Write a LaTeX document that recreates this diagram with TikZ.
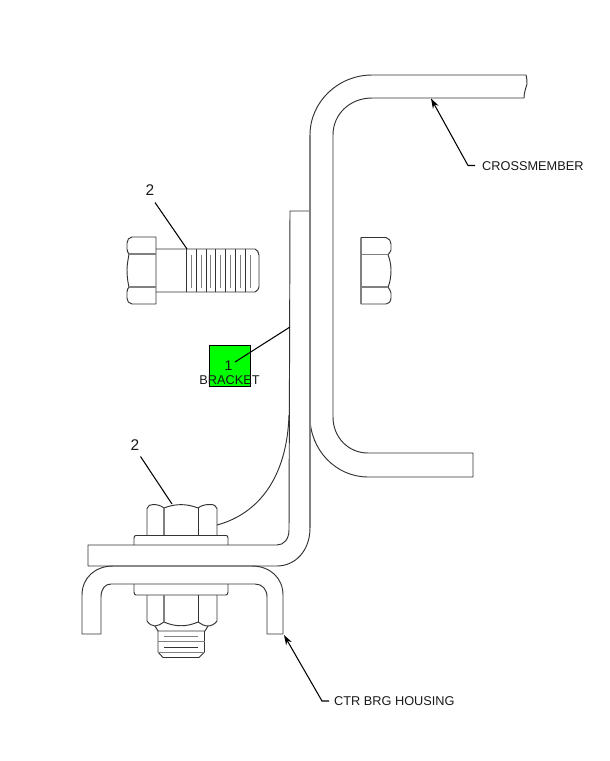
\documentclass[tikz,border=0pt]{standalone}
\usepackage{fontspec}
\setmainfont{Liberation Sans}
\usetikzlibrary{arrows.meta}
\definecolor{ink}{HTML}{333333}
\tikzset{
  part/.style={draw=ink,line width=0.95pt,line join=round},
  partg/.style={draw=black!50,line width=1.3pt},
  lead/.style={draw=black,line width=1.05pt},
  arr/.style={lead,-{Stealth[length=10pt,width=6.5pt]}},
  lbl/.style={inner sep=0pt,font=\fontsize{12.75}{12.75}\selectfont,text=black!90},
  num/.style={inner sep=0pt,font=\fontsize{15.5}{15.5}\selectfont,text=black!90}
}
\begin{document}
\begin{tikzpicture}[x=1pt,y=-1pt]
\useasboundingbox (0,0) rectangle (610,761);
% crossmember
\draw[part] (526,75) -- (372,75) .. controls (338,75) and (310,102) .. (310,135) -- (310,417)
  .. controls (310,450) and (336,477) .. (368,477) -- (473,477) -- (473,453) -- (368,453)
  .. controls (348,453) and (333,437) .. (333,417) -- (333,135)
  .. controls (333,114) and (350,98) .. (372,98) -- (524,98);
\draw[part] (526,75) .. controls (527,79) and (527,81) .. (527,84) .. controls (526,88) and (524,92) .. (524,98);
% bracket
\draw[part] (310,211) -- (290,211) -- (289,530) .. controls (289,539) and (284,545) .. (277,545) -- (88,545) -- (88,566) -- (277,566)
  .. controls (295,566) and (310,551) .. (310,528) -- (310,417);
\draw[partg] (310,135) -- (310,528);
% weld
\draw[part] (217,525) .. controls (258,514) and (287,478) .. (289,415);
% upper bolt
\draw[part] (156,237) -- (132,237) .. controls (129,237) and (127,240) .. (127,243) -- (127,249) .. controls (127,251) and (128,253) .. (129,254) .. controls (128,260) and (127,265) .. (127,270) .. controls (127,277) and (128,283) .. (129,287) .. controls (128,288) and (127,290) .. (127,292) -- (127,298) .. controls (127,301) and (129,304) .. (132,304) -- (156,304) -- cycle;
\draw[partg] (129,254) -- (156,254) (129,287) -- (156,287);
\draw[part] (156,249) -- (255,249) .. controls (257,250) and (259,252) .. (259,255) -- (259,287) .. controls (259,289) and (257,291) .. (255,292) -- (156,292);
\foreach \x in {186.7,196.7,206,215.7,225.3,235.3,245}
  \draw[part] (\x,249) -- (\x,292);
\foreach \x in {191.7,201,210.7,220.3,230.3,240,250}
  \draw[partg,line width=0.8pt] (\x,255) -- (\x,288);
% right nut
\draw[part] (361,237.5) -- (386,237.5) .. controls (389,238) and (391,241) .. (391,244) -- (391,250) .. controls (391,252) and (389,253) .. (388,254.5) .. controls (390,260) and (391,265) .. (391,270) .. controls (391,277) and (390,283) .. (388,287) .. controls (389,289) and (391,291) .. (391,293) -- (391,298) .. controls (391,302) and (388,304) .. (386,304) -- (361,304) -- cycle;
\draw[partg] (361,254.5) -- (388,254.5) (361,287) -- (388,287) (361,237.5) -- (361,304);
% lower nut top
\draw[part] (147,535.5) -- (147,508.5) .. controls (148,505.5) and (150,504.5) .. (153,504.5) .. controls (157,504.5) and (161,505.5) .. (164,508) .. controls (175,503.5) and (187,503.5) .. (198,508) .. controls (201,505.5) and (205,504.5) .. (210,504.5) .. controls (214,504.5) and (216,505.5) .. (217,508.5) -- (217,535.5);
\draw[partg] (164,508) -- (164,535.5);
\draw[part] (198,508) -- (198,535.5);
\draw[part] (134,545) -- (134,538) .. controls (134,536) and (135,535.5) .. (136,535.5) -- (226,535.5) .. controls (227,535.5) and (228,536) .. (228,538) -- (228,545);
% housing
\draw[part] (82,634) -- (82,595) .. controls (82,578) and (95,566) .. (113,566) -- (252,566)
  .. controls (270,566) and (283,578) .. (283,595) -- (283,634) -- (267,634) -- (267,597)
  .. controls (267,589) and (262,584) .. (255,584) -- (111,584) .. controls (105,584) and (101,589) .. (101,597) -- (101,634) -- cycle;
% lower washer and nut
\draw[part] (134,584) -- (134,592) .. controls (134,594) and (135,595) .. (136,595) -- (226,595) .. controls (227,595) and (228,594) .. (228,592) -- (228,584);
\draw[part] (147,595) -- (147,621) .. controls (149,624) and (152,626) .. (155,626) .. controls (158,626) and (161,624) .. (164,622) .. controls (175,627) and (187,627) .. (198,622) .. controls (201,624) and (204,626) .. (208,626) .. controls (211,626) and (215,624) .. (217,621) -- (217,595);
\draw[partg] (164,595) -- (164,622);
\draw[part] (198,595) -- (198,622);
\draw[part] (155,626) -- (158,631) -- (205,631) -- (208,626);
\draw[part] (158,631) -- (158,652) -- (163,657.5) -- (199,657.5) -- (204.5,652) -- (204.5,631);
\draw[partg,line width=1pt] (164,636.7) -- (198,636.7) (158,641.7) -- (204.5,641.7) (158,652) -- (204.5,652);
\draw[part] (164,647) -- (198,647);
% green square and labels
\node[draw=black,line width=0.8pt,fill=green,minimum size=41pt,inner sep=0pt] (sq) at (230,365.5) {};
\node[num,font=\fontsize{14}{14}\selectfont] (one) at (228.5,365.5) {1};
\node[lbl] (brk) at (229.5,380) {BRACKET};
\coordinate (brkpt) at (290,327);
\draw[lead] (235,362) -- (brkpt);
% item 2 leaders
\node[num] (twoa) at (150,190) {2};
\coordinate (twoat) at (187,249);
\draw[lead] (155,202.5) -- (twoat);
\node[num] (twob) at (135,445.5) {2};
\coordinate (twobt) at (172,504);
\draw[lead] (140.5,456.5) -- (twobt);
% named leaders
\node[lbl,anchor=west] (cm) at (482,166) {CROSSMEMBER};
\coordinate (cmk) at (468,165.5);
\coordinate (cmt) at (431,98.5);
\draw[arr] (cm.west) ++(-7,-0.5) -- (cmk) -- (cmt);
\node[lbl,anchor=west] (ctr) at (334,701) {CTR BRG HOUSING};
\coordinate (ctk) at (322,701);
\coordinate (ctt) at (284,635);
\draw[arr] (ctr.west) ++(-5,0) -- (ctk) -- (ctt);
\end{tikzpicture}
\end{document}
